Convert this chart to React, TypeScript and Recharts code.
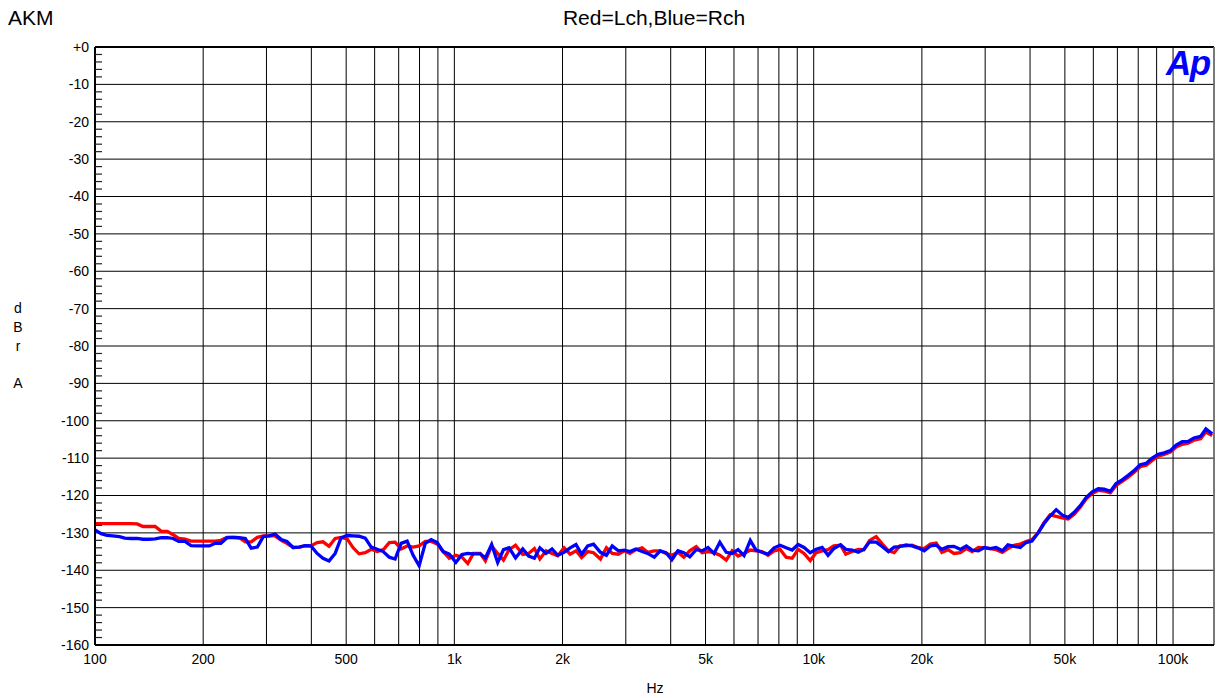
import { LineChart, Line, XAxis, YAxis, CartesianGrid, ReferenceLine } from "recharts"

// sweep frequencies (Hz), shared by both channels
const freqs = [
  100, 104, 108, 112, 117, 121, 126, 131, 136, 141, 147, 153, 159, 165, 171, 178, 185, 192, 200, 208,
  216, 224, 233, 242, 252, 262, 272, 283, 294, 305, 317, 330, 342, 356, 370, 384, 399, 415, 431, 448,
  466, 484, 503, 523, 543, 565, 587, 610, 634, 659, 684, 711, 739, 768, 798, 830, 862, 896, 931, 968,
  1010, 1050, 1090, 1130, 1180, 1220, 1270, 1320, 1370, 1420, 1480, 1550, 1610, 1670, 1730, 1800, 1870, 1940, 2020, 2100,
  2180, 2260, 2350, 2440, 2550, 2650, 2750, 2860, 2970, 3080, 3200, 3330, 3450, 3600, 3740, 3880, 4030, 4190, 4350, 4520,
  4710, 4890, 5080, 5280, 5480, 5710, 5930, 6160, 6400, 6660, 6910, 7180, 7460, 7760, 8060, 8380, 8710, 9050, 9400, 9780,
  10150, 10560, 10960, 11370, 11880, 12280, 12790, 13300, 13800, 14310, 14920, 15530, 16140, 16750, 17360, 18070, 18780, 19490, 20300, 21110,
  21920, 22740, 23650, 24560, 25580, 26590, 27610, 28720, 29840, 30960, 32180, 33500, 34710, 36130, 37560, 38980, 40500, 42120, 43750, 45470,
  47300, 49130, 51050, 53080, 55110, 57350, 59580, 61920, 64350, 66890, 69430, 72170, 75010, 77950, 81000, 84250, 87490, 90940, 94500, 98250,
  102000, 106100, 110200, 114200, 119300, 123400, 128500,
]

// Red = Lch (dBr A)
const lch = [
  -127.5, -127.5, -127.5, -127.5, -127.5, -127.5, -127.5, -127.6, -128.3, -128.3, -128.3, -129.6, -129.6, -130.5, -131.5, -131.7, -132.2, -132.2, -132.2, -132.2,
  -132.2, -132.0, -131.2, -131.2, -131.3, -132.4, -132.4, -131.2, -130.8, -130.8, -130.8, -132.0, -132.8, -133.9, -133.8, -133.5, -133.5, -132.6, -132.4, -133.6,
  -131.5, -131.2, -131.6, -134.0, -135.6, -135.3, -134.4, -135.0, -134.5, -132.6, -132.5, -134.3, -133.5, -133.8, -133.5, -132.3, -132.3, -133.0, -135.0, -136.8,
  -136.0, -136.5, -138.2, -135.5, -135.5, -137.5, -133.5, -135.5, -137.3, -134.5, -133.3, -135.8, -135.5, -134.2, -137.0, -134.8, -135.5, -136.1, -134.0, -135.7,
  -134.8, -136.6, -135.0, -135.3, -137.0, -134.0, -135.5, -135.7, -134.8, -135.5, -134.5, -134.0, -135.2, -134.8, -134.8, -135.5, -136.0, -135.2, -136.5, -134.8,
  -133.7, -135.3, -135.0, -135.3, -136.0, -137.3, -134.8, -136.2, -135.5, -134.6, -134.8, -135.0, -136.0, -134.8, -134.4, -136.5, -136.8, -134.4, -135.5, -137.4,
  -135.3, -134.8, -134.5, -133.5, -133.3, -135.7, -135.0, -134.4, -134.5, -132.0, -131.0, -133.0, -134.8, -135.3, -133.5, -133.5, -133.3, -133.9, -134.2, -133.0,
  -132.7, -135.2, -134.5, -135.5, -135.3, -134.2, -135.0, -133.9, -134.0, -134.2, -134.5, -135.2, -134.2, -133.3, -133.0, -132.3, -131.8, -130.0, -127.3, -125.2,
  -125.6, -126.0, -126.3, -125.0, -123.2, -120.9, -119.5, -118.6, -118.8, -119.3, -117.3, -116.2, -115.1, -113.8, -112.3, -111.9, -110.6, -109.5, -109.0, -108.4,
  -107.0, -106.3, -106.0, -105.2, -104.8, -103.0, -104.0,
]

// Blue = Rch (dBr A)
const rch = [
  -129.2, -130.2, -130.7, -130.8, -131.0, -131.4, -131.5, -131.5, -131.7, -131.7, -131.6, -131.3, -131.3, -131.5, -132.3, -132.3, -133.4, -133.5, -133.5, -133.5,
  -132.8, -132.8, -131.3, -131.2, -131.3, -131.5, -134.1, -133.8, -131.0, -130.8, -130.3, -131.8, -132.3, -133.9, -133.8, -133.4, -133.5, -135.5, -136.8, -137.5,
  -135.5, -131.3, -130.7, -130.8, -130.9, -131.4, -133.8, -134.4, -135.0, -136.5, -137.0, -132.8, -132.2, -136.0, -138.8, -132.8, -131.8, -132.6, -135.0, -135.7,
  -137.9, -135.8, -135.5, -135.6, -135.6, -136.7, -133.1, -137.9, -134.5, -134.0, -136.7, -134.3, -136.2, -136.8, -134.0, -135.5, -134.3, -136.0, -135.2, -134.0,
  -133.1, -135.7, -133.5, -133.0, -135.2, -136.0, -133.5, -134.8, -134.6, -135.0, -134.3, -135.0, -135.5, -136.5, -134.8, -135.3, -137.2, -134.8, -135.3, -136.4,
  -134.5, -134.8, -133.9, -135.5, -132.5, -135.2, -135.5, -134.5, -136.1, -132.0, -134.6, -135.2, -135.7, -134.0, -133.3, -134.0, -134.6, -133.1, -133.9, -135.3,
  -134.4, -133.9, -136.0, -134.2, -133.2, -134.4, -134.6, -135.2, -134.4, -132.4, -132.5, -133.7, -135.0, -133.8, -133.7, -133.2, -133.5, -134.0, -134.8, -133.5,
  -133.3, -134.4, -133.7, -133.6, -134.4, -133.5, -134.6, -134.8, -133.9, -134.2, -133.9, -134.8, -133.2, -133.6, -133.9, -132.6, -132.2, -130.0, -127.5, -125.5,
  -123.8, -125.2, -125.9, -124.5, -122.8, -120.5, -119.0, -118.2, -118.3, -118.9, -116.8, -115.8, -114.6, -113.3, -111.8, -111.4, -110.0, -109.0, -108.6, -108.0,
  -106.5, -105.6, -105.5, -104.6, -104.2, -102.2, -103.5,
]

const xTicks = [
  100, 200, 300, 400, 500, 600, 700, 800, 900,
  1000, 2000, 3000, 4000, 5000, 6000, 7000, 8000, 9000,
  10000, 20000, 30000, 40000, 50000, 60000, 70000, 80000, 90000,
  100000,
]
const xLabels: Record<number, string> = {
  100: "100", 200: "200", 500: "500",
  1000: "1k", 2000: "2k", 5000: "5k",
  10000: "10k", 20000: "20k", 50000: "50k",
  100000: "100k",
}
const yTicks = [-160, -150, -140, -130, -120, -110, -100, -90, -80, -70, -60, -50, -40, -30, -20, -10, 0]
const yMinorTicks = [
  -158, -156, -154, -152, -148, -146, -144, -142, -138, -136, -134, -132, -128, -126, -124, -122,
  -118, -116, -114, -112, -108, -106, -104, -102, -98, -96, -94, -92, -88, -86, -84, -82,
  -78, -76, -74, -72, -68, -66, -64, -62, -58, -56, -54, -52, -48, -46, -44, -42,
  -38, -36, -34, -32, -28, -26, -24, -22, -18, -16, -14, -12, -8, -6, -4, -2,
]
const yAllTicks = [...yTicks, ...yMinorTicks].sort((a, b) => a - b)

const data = freqs.map((f, i) => ({ f, l: lch[i], r: rch[i] }))

const font = '"Liberation Sans", Arial, Helvetica, sans-serif'

const abs = (left: number, top: number, extra = {}) => ({
  position: "absolute" as const,
  left,
  top,
  lineHeight: 1,
  whiteSpace: "nowrap" as const,
  ...extra,
})

// major ticks get a label, minor ticks a short mark inside the plot
const YTick = (props: any) => {
  const { x, y, payload } = props
  const v = payload.value
  if (v % 10 === 0) {
    return (
      <text x={x} y={y} dy="0.355em" textAnchor="end" fontSize={14} fill="#000" fontFamily={font}>
        {v === 0 ? "+0" : String(v)}
      </text>
    )
  }
  // x is the label anchor, 6px left of the axis line
  return <line x1={x + 6} x2={x + 13} y1={y} y2={y} stroke="#222" strokeWidth={1.2} />
}

export default function App() {
  return (
    <div style={{ position: "relative", width: 1217, height: 690, fontFamily: font, color: "#000" }}>
      <div style={abs(0, -1, { fontSize: 21 })}>AKM</div>
      <div style={abs(446, -1, { fontSize: 21, width: 400, textAlign: "center" })}>Red=Lch,Blue=Rch</div>
      <div style={abs(1158, 37, { fontSize: 35, fontWeight: "bold", fontStyle: "italic", color: "#0000ff", letterSpacing: -1.5, zIndex: 2 })}>
        Ap
      </div>
      <div style={abs(0, 293, { fontSize: 14, width: 20, textAlign: "center" })}>d</div>
      <div style={abs(0, 312, { fontSize: 14, width: 20, textAlign: "center" })}>B</div>
      <div style={abs(0, 331, { fontSize: 14, width: 20, textAlign: "center" })}>r</div>
      <div style={abs(0, 368, { fontSize: 14, width: 20, textAlign: "center" })}>A</div>
      <div style={abs(597, 673, { fontSize: 14, width: 100, textAlign: "center" })}>Hz</div>

      <LineChart
        width={1217}
        height={690}
        data={data}
        margin={{ top: 39, right: 11, bottom: 22, left: 0 }}
        style={{ fontFamily: font }}
      >
        <CartesianGrid stroke="#000" strokeWidth={1} horizontalValues={yTicks} />
        <XAxis
          dataKey="f"
          type="number"
          scale="log"
          domain={[100, 130000]}
          allowDataOverflow
          ticks={xTicks}
          interval={0}
          tickFormatter={(v: number) => xLabels[v] ?? ""}
          tickLine={false}
          tickSize={6}
          tickMargin={3}
          height={31}
          axisLine={{ stroke: "#000", strokeWidth: 2 }}
          tick={{ fill: "#000", fontSize: 14 }}
        />
        <YAxis
          type="number"
          domain={[-160, 0]}
          ticks={yAllTicks}
          interval={0}
          tickLine={false}
          tickSize={4}
          tickMargin={2}
          width={87}
          axisLine={{ stroke: "#000", strokeWidth: 2 }}
          tick={YTick}
        />
        <ReferenceLine y={0} stroke="#000" strokeWidth={2} />
        <ReferenceLine x={130000} stroke="#777" strokeWidth={1.5} />
        <Line type="linear" dataKey="l" stroke="#ff0000" strokeWidth={3.3} dot={false} isAnimationActive={false} />
        <Line type="linear" dataKey="r" stroke="#0000ff" strokeWidth={3.3} dot={false} isAnimationActive={false} />
      </LineChart>
    </div>
  )
}
